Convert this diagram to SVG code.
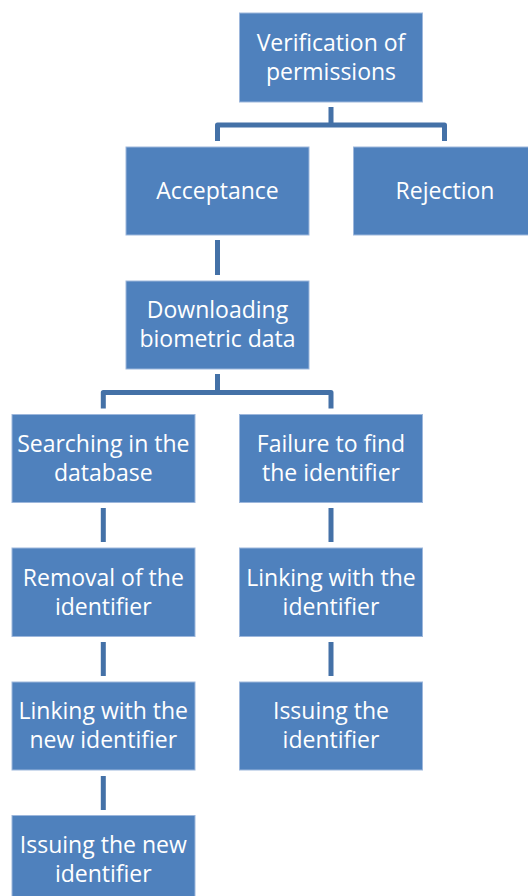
<svg xmlns="http://www.w3.org/2000/svg" width="528" height="896" viewBox="0 0 528 896">
<style>
.box{fill:#4F81BD;stroke:#9DB7DC;stroke-width:1}
.t{font-family:"Open Sans","Noto Sans","Liberation Sans",sans-serif;font-size:23px;fill:#ffffff;text-anchor:middle}
.c{fill:none;stroke:#4471A7;stroke-width:5;stroke-linejoin:round}
</style>
<rect width="528" height="896" fill="#ffffff"/>
<g id="connectors">
<path class="c" d="M331,107 V125 M217.5,141 V125 H444.5 V141"/>
<path class="c" d="M217.5,240 V275"/>
<path class="c" d="M217.5,374 V392.5 M103.3,408.5 V392.5 H331 V408.5"/>
<path class="c" d="M103.3,508 V542 M103.3,642 V676 M103.3,776 V810"/>
<path class="c" d="M331,508 V542 M331,642 V676"/>
</g>
<g id="n-verification">
<rect class="box" x="239.5" y="13" width="183" height="89"/>
<text class="t" x="331" y="50.5">Verification of</text>
<text class="t" x="331" y="79.5">permissions</text>
</g>
<g id="n-acceptance">
<rect class="box" x="126" y="147" width="183" height="88"/>
<text class="t" x="217.5" y="199.3">Acceptance</text>
</g>
<g id="n-rejection">
<rect class="box" x="353.5" y="147" width="183" height="88"/>
<text class="t" x="445" y="199.3">Rejection</text>
</g>
<g id="n-downloading">
<rect class="box" x="126" y="281" width="183" height="88"/>
<text class="t" x="217.5" y="318.3">Downloading</text>
<text class="t" x="217.5" y="347.3">biometric data</text>
</g>
<g id="n-searching">
<rect class="box" x="12" y="414.5" width="183" height="88"/>
<text class="t" x="103.3" y="451.8">Searching in the</text>
<text class="t" x="103.3" y="480.8">database</text>
</g>
<g id="n-failure">
<rect class="box" x="239.5" y="414.5" width="183" height="88"/>
<text class="t" x="331" y="451.8">Failure to find</text>
<text class="t" x="331" y="480.8">the identifier</text>
</g>
<g id="n-removal">
<rect class="box" x="12" y="548" width="183" height="88.5"/>
<text class="t" x="103.3" y="585.5">Removal of the</text>
<text class="t" x="103.3" y="614.5">identifier</text>
</g>
<g id="n-linking-right">
<rect class="box" x="239.5" y="548" width="183" height="88.5"/>
<text class="t" x="331" y="585.5">Linking with the</text>
<text class="t" x="331" y="614.5">identifier</text>
</g>
<g id="n-linking-new">
<rect class="box" x="12" y="682" width="183" height="88"/>
<text class="t" x="103.3" y="719.3">Linking with the</text>
<text class="t" x="103.3" y="748.3">new identifier</text>
</g>
<g id="n-issuing-right">
<rect class="box" x="239.5" y="682" width="183" height="88"/>
<text class="t" x="331" y="719.3">Issuing the</text>
<text class="t" x="331" y="748.3">identifier</text>
</g>
<g id="n-issuing-new">
<rect class="box" x="12" y="815.5" width="183" height="88"/>
<text class="t" x="103.3" y="852.8">Issuing the new</text>
<text class="t" x="103.3" y="881.8">identifier</text>
</g>
</svg>
